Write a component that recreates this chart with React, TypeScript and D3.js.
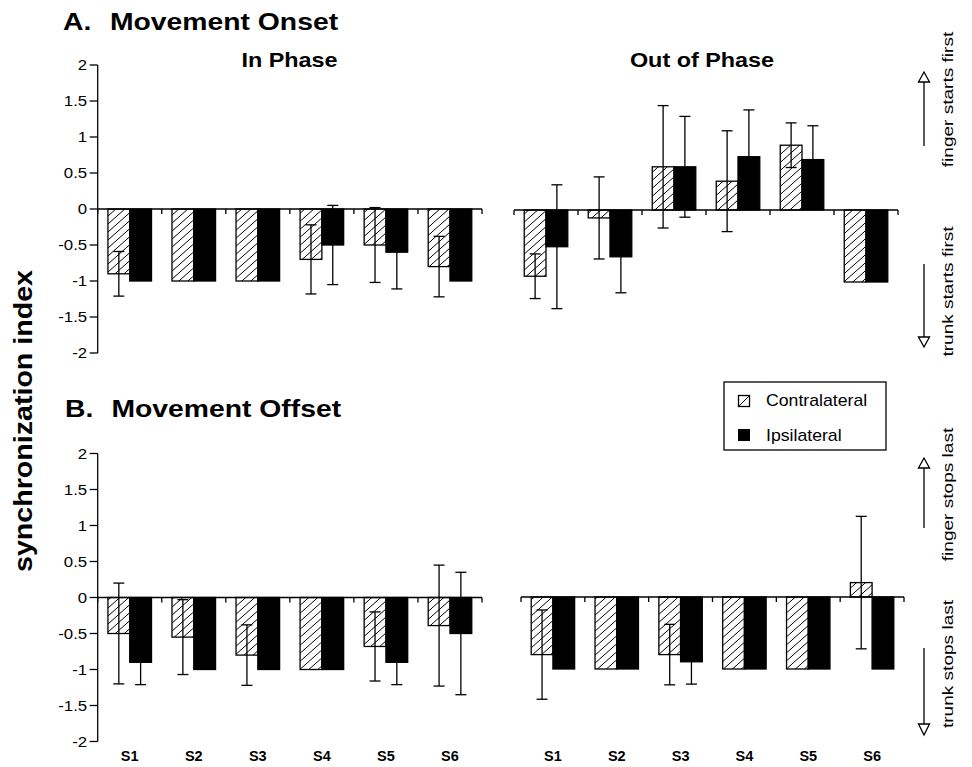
import * as d3 from "d3";
import React from "react";

const subjects = ["S1", "S2", "S3", "S4", "S5", "S6"];
const yTicks = [2, 1.5, 1, 0.5, 0, -0.5, -1, -1.5, -2];

// A. movement onset
const onsetInContra = [-0.9, -1, -1, -0.7, -0.5, -0.8];
const onsetInContraErr = [0.31, 0, 0, 0.48, 0.52, 0.42];
const onsetInIpsi = [-1, -1, -1, -0.5, -0.6, -1];
const onsetInIpsiErr = [0, 0, 0, 0.55, 0.51, 0];
const onsetOutContra = [-0.92, -0.11, 0.6, 0.4, 0.9, -1];
const onsetOutContraErr = [0.31, 0.57, 0.85, 0.7, 0.31, 0];
const onsetOutIpsi = [-0.51, -0.65, 0.6, 0.74, 0.7, -1];
const onsetOutIpsiErr = [0.86, 0.5, 0.7, 0.65, 0.47, 0];

// B. movement offset
const offsetInContra = [-0.5, -0.55, -0.8, -1, -0.68, -0.39];
const offsetInContraErr = [0.7, 0.52, 0.42, 0, 0.48, 0.84];
const offsetInIpsi = [-0.9, -1, -1, -1, -0.9, -0.5];
const offsetInIpsiErr = [0.31, 0, 0, 0, 0.31, 0.85];
const offsetOutContra = [-0.8, -1, -0.8, -1, -1, 0.2];
const offsetOutContraErr = [0.62, 0, 0.42, 0, 0, 0.92];
const offsetOutIpsi = [-1, -1, -0.9, -1, -1, -1];
const offsetOutIpsiErr = [0, 0, 0.31, 0, 0, 0];

const FONT = "'Liberation Sans', Arial, Helvetica, sans-serif";
const SW = 1.3;

function T({ x, y, sx = 1, rot = 0, size, weight = "normal", anchor = "start", dy = "0", children }: any) {
  return (
    <text
      transform={`translate(${x},${y}) rotate(${rot}) scale(${sx},1)`}
      fontSize={size}
      fontWeight={weight}
      textAnchor={anchor}
      dy={dy}
      fontFamily={FONT}
      fill="#000"
    >
      {children}
    </text>
  );
}

function Panel({ contra, contraErr, ipsi, ipsiErr, x0, x1, yRange, axis, labels }: any) {
  const y = d3.scaleLinear().domain([-2, 2]).range(yRange);
  const x = d3.scaleBand<string>().domain(subjects).range([x0, x1]).padding(0);
  const inner = d3
    .scaleBand<string>()
    .domain(["contra", "ipsi"])
    .range([0, x.bandwidth()])
    .paddingInner(0)
    .paddingOuter(0.47);
  const bw = inner.bandwidth();
  const y0 = y(0);
  const cap = 5.5;

  const errBar = (cx: number, v: number, e: number, key: string) =>
    e > 0 ? (
      <g key={key} stroke="#000" strokeWidth={SW}>
        <line x1={cx} x2={cx} y1={y(v + e)} y2={y(v - e)} />
        <line x1={cx - cap} x2={cx + cap} y1={y(v + e)} y2={y(v + e)} />
        <line x1={cx - cap} x2={cx + cap} y1={y(v - e)} y2={y(v - e)} />
      </g>
    ) : null;

  return (
    <g>
      {subjects.map((s, i) => {
        const gx = x(s)!;
        const cx = gx + inner("contra")!;
        const ix = gx + inner("ipsi")!;
        return (
          <g key={s}>
            <rect
              x={cx}
              width={bw}
              y={Math.min(y(contra[i]), y0)}
              height={Math.abs(y(contra[i]) - y0)}
              fill="url(#hatch)"
              stroke="#000"
              strokeWidth={SW}
            />
            <rect
              x={ix}
              width={bw}
              y={Math.min(y(ipsi[i]), y0)}
              height={Math.abs(y(ipsi[i]) - y0)}
              fill="#000"
              stroke="#000"
              strokeWidth={SW}
            />
            {errBar(cx + bw / 2, contra[i], contraErr[i], "ce")}
            {errBar(ix + bw / 2, ipsi[i], ipsiErr[i], "ie")}
          </g>
        );
      })}
      {/* zero line with category ticks */}
      <line x1={x0} x2={x1} y1={y0} y2={y0} stroke="#000" strokeWidth={SW} />
      {[...subjects.map((s) => x(s)!), x1].map((tx, i) => (
        <line key={i} x1={tx} x2={tx} y1={y0} y2={y0 + 5} stroke="#000" strokeWidth={SW} />
      ))}
      {axis && (
        <g>
          <line x1={x0} x2={x0} y1={y(2)} y2={y(-2)} stroke="#000" strokeWidth={SW} />
          {yTicks.map((t) => (
            <g key={t}>
              <line x1={x0 - 8} x2={x0} y1={y(t)} y2={y(t)} stroke="#000" strokeWidth={SW} />
              <T x={x0 - 10.5} y={y(t)} sx={1.2} size={14} anchor="end" dy="0.36em">
                {String(t)}
              </T>
            </g>
          ))}
        </g>
      )}
      {labels &&
        subjects.map((s) => (
          <T key={s} x={x(s)! + x.bandwidth() / 2} y={761} size={14.5} weight="bold" anchor="middle">
            {s}
          </T>
        ))}
    </g>
  );
}

function Arrow({ x, tip, base, end }: any) {
  const dir = base > tip ? 1 : -1;
  return (
    <g stroke="#000" strokeWidth={SW}>
      <line x1={x} x2={x} y1={base} y2={end} />
      <path
        d={`M${x},${tip} L${x - 5.5},${base} L${x + 5.5},${base} Z`}
        fill="#fff"
        strokeLinejoin="miter"
      />
      <title>{dir > 0 ? "up" : "down"}</title>
    </g>
  );
}

export default function App() {
  const W = 972;
  const H = 767;
  const topY: [number, number] = [353, 65];
  const botY: [number, number] = [741.5, 453.5];

  return (
    <svg
      width={W}
      height={H}
      viewBox={`0 0 ${W} ${H}`}
      style={{ position: "absolute", left: 0, top: 0, background: "#fff" }}
    >
      <defs>
        <pattern id="hatch" patternUnits="userSpaceOnUse" width={9} height={8}>
          <rect width={9} height={8} fill="#fff" />
          <line x1={0} y1={8} x2={9} y2={0} stroke="#000" strokeWidth={1} />
          <line x1={-9} y1={8} x2={0} y2={0} stroke="#000" strokeWidth={1} />
          <line x1={9} y1={8} x2={18} y2={0} stroke="#000" strokeWidth={1} />
        </pattern>
      </defs>
      <rect width={W} height={H} fill="#fff" />

      {/* titles */}
      <T x={63} y={30} sx={1.18} size={24} weight="bold">A.</T>
      <T x={110} y={30} sx={1.18} size={24} weight="bold">Movement Onset</T>
      <T x={65} y={417} sx={1.18} size={24} weight="bold">B.</T>
      <T x={111.5} y={417} sx={1.18} size={24} weight="bold">Movement Offset</T>
      <T x={289.5} y={67} sx={1.2} size={19.5} weight="bold" anchor="middle">In Phase</T>
      <T x={702} y={67} sx={1.2} size={19.5} weight="bold" anchor="middle">Out of Phase</T>

      {/* y label */}
      <T x={32} y={421} rot={-90} sx={1.1} size={26} weight="bold" anchor="middle">
        synchronization index
      </T>

      {/* panels */}
      <Panel contra={onsetInContra} contraErr={onsetInContraErr} ipsi={onsetInIpsi} ipsiErr={onsetInIpsiErr}
        x0={97.7} x1={482} yRange={topY} axis />
      <Panel contra={onsetOutContra} contraErr={onsetOutContraErr} ipsi={onsetOutIpsi} ipsiErr={onsetOutIpsiErr}
        x0={514} x1={898} yRange={[354, 66]} />
      <Panel contra={offsetInContra} contraErr={offsetInContraErr} ipsi={offsetInIpsi} ipsiErr={offsetInIpsiErr}
        x0={97.7} x1={482} yRange={botY} axis labels />
      <Panel contra={offsetOutContra} contraErr={offsetOutContraErr} ipsi={offsetOutIpsi} ipsiErr={offsetOutIpsiErr}
        x0={521} x1={904} yRange={[741, 453]} labels />

      {/* legend */}
      <rect x={724} y={382} width={162} height={68} fill="#fff" stroke="#000" strokeWidth={SW} />
      <rect x={738.5} y={395.5} width={11} height={11} fill="#fff" stroke="#000" strokeWidth={SW} />
      <line x1={738.5} y1={406.5} x2={749.5} y2={395.5} stroke="#000" strokeWidth={1} />
      <rect x={738} y={429} width={12} height={12} fill="#000" />
      <T x={766} y={405.5} sx={1.04} size={17}>Contralateral</T>
      <T x={766} y={441} sx={1.04} size={17}>Ipsilateral</T>

      {/* direction annotations */}
      <Arrow x={924} tip={72} base={82} end={146} />
      <Arrow x={924} tip={347} base={337} end={264} />
      <Arrow x={924} tip={458} base={468} end={528} />
      <Arrow x={924} tip={735} base={724} end={648} />
      <T x={953} y={99.5} rot={-90} sx={1.23} size={15.5} anchor="middle">finger starts first</T>
      <T x={953} y={291.5} rot={-90} sx={1.23} size={15.5} anchor="middle">trunk starts first</T>
      <T x={953} y={494.5} rot={-90} sx={1.23} size={15.5} anchor="middle">finger stops last</T>
      <T x={953} y={664} rot={-90} sx={1.23} size={15.5} anchor="middle">trunk stops last</T>
    </svg>
  );
}
